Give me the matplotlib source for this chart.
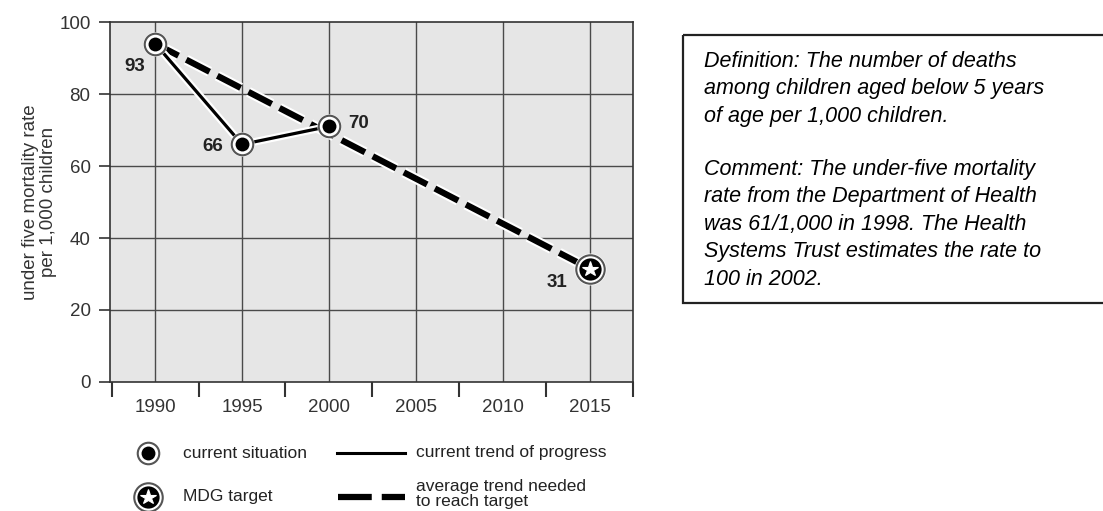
import matplotlib
matplotlib.use("Agg")
import matplotlib.pyplot as plt
import matplotlib.patheffects as pe
from matplotlib.patches import Rectangle

# ---- data ----
years_current = [1990, 1995, 2000]
rate_current = [94, 66, 71]
labels_current = ["93", "66", "70"]
years_target = [1990, 2015]
rate_target = [94, 31.5]
label_target = "31"
xtick_labels = ["1990", "1995", "2000", "2005", "2010", "2015"]
xtick_years = [1990, 1995, 2000, 2005, 2010, 2015]
yticks = [0, 20, 40, 60, 80, 100]

definition_text = ("Definition: The number of deaths\n"
                   "among children aged below 5 years\n"
                   "of age per 1,000 children.")
comment_text = ("Comment: The under-five mortality\n"
                "rate from the Department of Health\n"
                "was 61/1,000 in 1998. The Health\n"
                "Systems Trust estimates the rate to\n"
                "100 in 2002.")

plt.rcParams['font.family'] = ['Liberation Sans', 'DejaVu Sans']
W, H = 1103, 511
fig = plt.figure(figsize=(W / 100, H / 100), dpi=100)
fig.patch.set_facecolor('white')

# main axes (pixel box: x 110-633, y 22-382)
ax = fig.add_axes([110 / W, 1 - 382 / H, (633 - 110) / W, (382 - 22) / H])
ax.set_facecolor('#e6e6e6')
ax.set_xlim(1987.4, 2017.4)
ax.set_ylim(0, 100)
grid_c = '#4a4a4a'
for yv in yticks[1:-1]:
    ax.axhline(yv, color=grid_c, lw=1.0, zorder=1)
for xv in xtick_years:
    ax.axvline(xv, color=grid_c, lw=1.0, zorder=1)
for s in ax.spines.values():
    s.set_color('#333333')
    s.set_linewidth(1.2)

ax.set_yticks(yticks)
ax.set_yticklabels([str(v) for v in yticks], fontsize=13.5, color='#333333')
ax.tick_params(axis='y', length=8, width=1.2, color='#333333', pad=6)
ax.set_xticks(xtick_years)
ax.set_xticklabels(xtick_labels, fontsize=13.5, color='#333333')
ax.tick_params(axis='x', which='major', length=0, pad=12)
ax.set_xticks([1987.5 + 5 * i for i in range(7)], minor=True)
ax.tick_params(axis='x', which='minor', length=11, width=1.5, color='#333333')

ax.set_ylabel("under five mortality rate\nper 1,000 children", fontsize=13.5,
              color='#333333', labelpad=1.5, linespacing=1.1)

halo = [pe.withStroke(linewidth=5.5, foreground='white')]
halo2 = [pe.withStroke(linewidth=7.5, foreground='white')]

# target dashed line
ax.plot(years_target, rate_target, color='black', lw=4.5, dashes=(4.2, 1.4),
        solid_capstyle='butt', dash_capstyle='butt', path_effects=halo2, zorder=3)
# current trend solid line
ax.plot(years_current, rate_current, color='black', lw=2.3, path_effects=halo,
        zorder=4)


def current_marker(a, x, y, z=5):
    a.plot([x], [y], 'o', ms=17.5, mfc='white', mec='white', mew=0, zorder=z)
    a.plot([x], [y], 'o', ms=15.5, mfc='white', mec='#555555', mew=1.5, zorder=z)
    a.plot([x], [y], 'o', ms=10, mfc='black', mec='black', mew=0, zorder=z)


def target_marker(a, x, y, z=5):
    a.plot([x], [y], 'o', ms=23, mfc='white', mec='white', mew=0, zorder=z)
    a.plot([x], [y], 'o', ms=20.5, mfc='white', mec='#555555', mew=1.5, zorder=z)
    a.plot([x], [y], 'o', ms=16, mfc='black', mec='black', mew=0, zorder=z)
    a.plot([x], [y], '*', ms=11.5, mfc='white', mec='white', mew=0.8, zorder=z)


for x, y in zip(years_current, rate_current):
    current_marker(ax, x, y)
target_marker(ax, years_target[-1], rate_target[-1])

label_offsets = [(-20, -23), (-29, -2), (30, 3)]
for x, y, t, off in zip(years_current, rate_current, labels_current, label_offsets):
    ax.annotate(t, (x, y), xytext=off, textcoords='offset pixels',
                ha='center', va='center', fontsize=13.5, fontweight='bold',
                color='#222222', zorder=6)
ax.annotate(label_target, (years_target[-1], rate_target[-1]), xytext=(-33, -14),
            textcoords='offset pixels', ha='center', va='center', fontsize=13.5,
            fontweight='bold', color='#222222', zorder=6)

# overlay axes in pixel coordinates for legend and text box
ov = fig.add_axes([0, 0, 1, 1], facecolor='none')
ov.set_xlim(0, W)
ov.set_ylim(H, 0)
ov.axis('off')

current_marker(ov, 148, 453)
target_marker(ov, 148, 497)
ov.text(183, 453, "current situation", fontsize=12.5, color='#222222', va='center')
ov.text(183, 497, "MDG target", fontsize=12.5, color='#222222', va='center')
ov.plot([337, 405], [453, 453], color='black', lw=2.2)
ov.plot([338, 405], [497, 497], color='black', lw=4.5, dashes=(5.4, 1.6),
        dash_capstyle='butt', solid_capstyle='butt')
ov.text(416, 453, "current trend of progress", fontsize=12.5, color='#222222',
        va='center')
ov.text(416, 494, "average trend needed\nto reach target", fontsize=12.5,
        color='#222222', va='center', linespacing=0.95)

# text box
ov.add_patch(Rectangle((683, 35), 440, 268, fill=False, edgecolor='#222222',
                       lw=1.6, clip_on=False))
ov.text(704, 51, definition_text, fontsize=15.5, style='italic', color='black',
        va='top', linespacing=1.4)
ov.text(704, 159, comment_text, fontsize=15.5, style='italic', color='black',
        va='top', linespacing=1.4)

fig.savefig("out.png", dpi=100)
